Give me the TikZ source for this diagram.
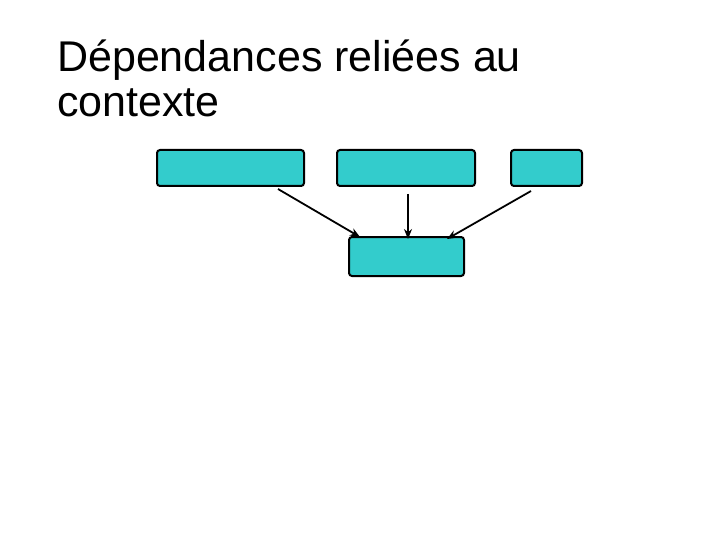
\documentclass[tikz,border=0pt]{standalone}
\usepackage{fontspec}
\setmainfont{Liberation Sans}
\usetikzlibrary{arrows.meta}
\begin{document}
\begin{tikzpicture}[x=1pt,y=-1pt,
  box/.style={draw=black,line width=2pt,fill={rgb,255:red,51;green,204;blue,204},rounded corners=3pt,inner sep=0pt},
  ttl/.style={anchor=base west,font=\fontsize{43}{45}\selectfont,inner sep=0pt},
  conn/.style={-{Stealth[length=10pt,width=8pt]},line width=1.8pt}]
\useasboundingbox (0,0) rectangle (720,540);
\node[ttl] (t1) at (57,72) {Dépendances reliées au};
\node[ttl] (t2) at (57,117) {contexte};
\node[box,minimum width=147pt,minimum height=36pt] (b1) at (230.5,168) {};
\node[box,minimum width=138pt,minimum height=36pt] (b2) at (406,168) {};
\node[box,minimum width=71pt,minimum height=36pt] (b3) at (546.5,168) {};
\node[box,minimum width=115pt,minimum height=39pt] (b4) at (406.5,256.5) {};
\draw[conn] ([xshift=-27pt,yshift=-2pt]b1.south east) -- ([xshift=12pt,yshift=-1pt]b4.north west);
\draw[conn] ([xshift=2pt,yshift=-7pt]b2.south) -- ([xshift=1.5pt,yshift=-3pt]b4.north);
\draw[conn] ([xshift=-52pt,yshift=-4pt]b3.south east) -- ([xshift=-18pt,yshift=-3pt]b4.north east);
\end{tikzpicture}
\end{document}
